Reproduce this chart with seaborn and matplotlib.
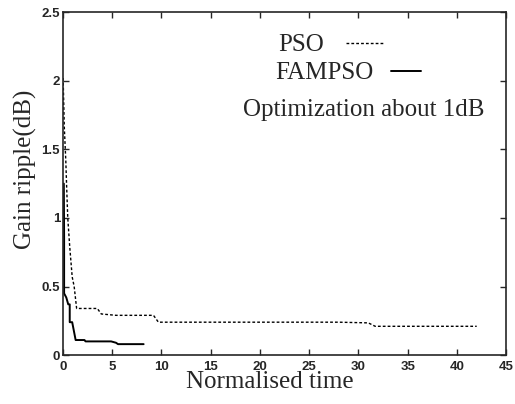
import matplotlib
matplotlib.use("Agg")
import matplotlib.pyplot as plt
import seaborn as sns
import pandas as pd

pso_x = [0.03, 0.15, 0.3, 0.4, 0.5, 0.7, 0.95, 1.15, 1.4, 3.5, 3.9, 5.4, 9.2, 9.7, 28.0, 31.0, 31.7, 42.0]
pso_y = [2.02, 1.66, 1.42, 1.2, 1.0, 0.79, 0.57, 0.50, 0.34, 0.34, 0.30, 0.29, 0.29, 0.24, 0.24, 0.235, 0.21, 0.21]
fam_x = [0.1, 0.13, 0.13, 0.35, 0.55, 0.7, 0.7, 0.95, 1.3, 2.2, 2.3, 4.9, 5.4, 5.6, 8.2]
fam_y = [1.25, 0.85, 0.45, 0.42, 0.37, 0.37, 0.24, 0.24, 0.11, 0.11, 0.10, 0.10, 0.09, 0.08, 0.08]
x_ticks = [0, 5, 10, 15, 20, 25, 30, 35, 40, 45]
y_ticks = [0, 0.5, 1, 1.5, 2, 2.5]
x_label = "Normalised time"
y_label = "Gain ripple(dB)"
note = "Optimization about 1dB"

sns.set_style("ticks")
plt.rcParams["font.family"] = ["Liberation Sans", "DejaVu Sans"]

fig = plt.figure(figsize=(5.15, 4.04), dpi=100)
ax = fig.add_axes([0.122, 0.121, 0.861, 0.849])

df_pso = pd.DataFrame({"x": pso_x, "y": pso_y})
df_fam = pd.DataFrame({"x": fam_x, "y": fam_y})
sns.lineplot(data=df_pso, x="x", y="y", sort=False, estimator=None, ax=ax,
             color="black", linewidth=1.0, linestyle=(0, (2, 1.5)), label="PSO")
sns.lineplot(data=df_fam, x="x", y="y", sort=False, estimator=None, ax=ax,
             color="black", linewidth=1.4, label="FAMPSO")

ax.set_xlim(0, 45)
ax.set_ylim(0, 2.5)
ax.set_xticks(x_ticks)
ax.set_yticks(y_ticks)
ax.set_xticklabels([str(t) for t in x_ticks], fontweight="bold", fontsize=9.5)
ax.set_yticklabels([("%g" % t) for t in y_ticks], fontweight="bold", fontsize=9.5)
ax.tick_params(direction="in", top=True, right=True, length=4, width=1)
ax.tick_params(axis="x", pad=4)
ax.tick_params(axis="y", pad=2)
for s in ax.spines.values():
    s.set_linewidth(1.2)
    s.set_visible(True)

serif = ["Liberation Serif", "DejaVu Serif"]
ax.set_xlabel(x_label, fontsize=18, family=serif)
ax.set_ylabel(y_label, fontsize=18, family=serif)
ax.xaxis.set_label_coords(0.467, -0.047)
ax.yaxis.set_label_coords(-0.058, 0.542)

handles, labels = ax.get_legend_handles_labels()
ax.get_legend().remove()
leg1 = ax.legend([handles[0]], [labels[0]], loc="center left",
                 bbox_to_anchor=(0.485, 0.904), frameon=False, markerfirst=False,
                 prop={"family": serif, "size": 18}, handlelength=1.5,
                 handletextpad=0.9, borderpad=0, borderaxespad=0)
ax.add_artist(leg1)
ax.legend([handles[1]], [labels[1]], loc="center left",
          bbox_to_anchor=(0.479, 0.822), frameon=False, markerfirst=False,
          prop={"family": serif, "size": 18}, handlelength=1.2,
          handletextpad=0.7, borderpad=0, borderaxespad=0)
ax.text(0.950, 0.714, note, transform=ax.transAxes, ha="right", va="center",
        fontsize=18, family=serif)

fig.savefig("out.png", dpi=100)
